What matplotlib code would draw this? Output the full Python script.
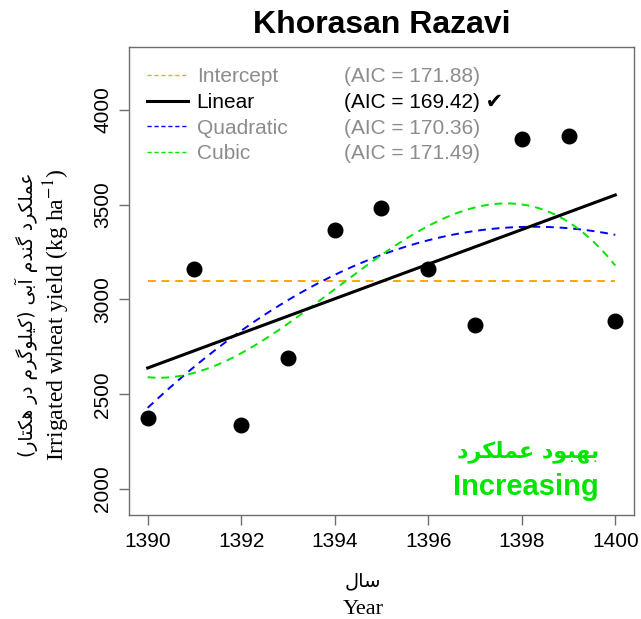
import numpy as np
import matplotlib
matplotlib.use("Agg")
import matplotlib.pyplot as plt
from matplotlib.lines import Line2D

plt.rcParams['font.family'] = ['Liberation Sans', 'DejaVu Sans']
plt.rcParams['mathtext.fontset'] = 'stix'

# data
years = [1390, 1391, 1392, 1393, 1394, 1395, 1396, 1397, 1398, 1399, 1400]
yield_kg = [2375, 3163, 2338, 2690, 3368, 3485, 3163, 2865, 3845, 3865, 2888]

models = ['Intercept', 'Linear', 'Quadratic', 'Cubic']
aic = [171.88, 169.42, 170.36, 171.49]
degrees = [0, 1, 2, 3]
best = 'Linear'

title = 'Khorasan Razavi'
xlabel_en = 'Year'
xlabel_fa = 'سال'
ylabel_en = r'Irrigated wheat yield (kg ha$^{-1}$)'
ylabel_fa = 'عملکرد گندم آبی (کیلوگرم در هکتار)'
trend_en = 'Increasing'
trend_fa = 'بهبود عملکرد'


# --- minimal Persian shaping (matplotlib has no complex text layout) ---
FORMS = {
    'ا': ('\uFE8D', '\uFE8E', None, None),
    'آ': ('\uFE81', '\uFE82', None, None),
    'ب': ('\uFE8F', '\uFE90', '\uFE91', '\uFE92'),
    'ت': ('\uFE95', '\uFE96', '\uFE97', '\uFE98'),
    'د': ('\uFEA9', '\uFEAA', None, None),
    'ر': ('\uFEAD', '\uFEAE', None, None),
    'س': ('\uFEB1', '\uFEB2', '\uFEB3', '\uFEB4'),
    'ع': ('\uFEC9', '\uFECA', '\uFECB', '\uFECC'),
    'ل': ('\uFEDD', '\uFEDE', '\uFEDF', '\uFEE0'),
    'م': ('\uFEE1', '\uFEE2', '\uFEE3', '\uFEE4'),
    'ن': ('\uFEE5', '\uFEE6', '\uFEE7', '\uFEE8'),
    'ه': ('\uFEE9', '\uFEEA', '\uFEEB', '\uFEEC'),
    'و': ('\uFEED', '\uFEEE', None, None),
    '\u06A9': ('\uFB8E', '\uFB8F', '\uFB90', '\uFB91'),
    '\u06AF': ('\uFB92', '\uFB93', '\uFB94', '\uFB95'),
    '\u06CC': ('\uFBFC', '\uFBFD', '\uFBFE', '\uFBFF'),
}


def fa(text):
    text = text.replace('\u0643', '\u06A9').replace('\u064A', '\u06CC')
    out = []
    for i, ch in enumerate(text):
        if ch not in FORMS:
            out.append(ch)
            continue
        prev = text[i - 1] if i > 0 else ''
        nxt = text[i + 1] if i + 1 < len(text) else ''
        join_prev = prev in FORMS and FORMS[prev][2] is not None
        join_next = nxt in FORMS and FORMS[ch][2] is not None
        iso, fin, ini, med = FORMS[ch]
        if join_prev and join_next:
            out.append(med)
        elif join_prev:
            out.append(fin)
        elif join_next:
            out.append(ini)
        else:
            out.append(iso)
    vis = ''.join(out)[::-1]
    return vis.translate(str.maketrans('()', ')('))


fig = plt.figure(figsize=(6.41, 6.19), dpi=100)
ax = fig.add_axes([129 / 641, 1 - 515 / 619, 505 / 641, 468 / 619])

colors = {'Intercept': '#FFA500', 'Linear': 'black', 'Quadratic': '#0000FF', 'Cubic': '#00E600'}

x = np.array(years, dtype=float)
y = np.array(yield_kg, dtype=float)
xs = np.linspace(x.min(), x.max(), 300)
handles = []
for name, deg in zip(models, degrees):
    coef = np.polyfit(x - 1395, y, deg)
    ys = np.polyval(coef, xs - 1395)
    if name == 'Linear':
        ax.plot(xs, ys, color=colors[name], lw=2.2, zorder=3)
        handles.append(Line2D([], [], color=colors[name], lw=2.2))
    else:
        ax.plot(xs, ys, color=colors[name], lw=1.4, ls=(0, (4, 3)), zorder=2)
        handles.append(Line2D([], [], color=colors[name], lw=1.0, ls=(0, (3, 2))))

ax.scatter(years, yield_kg, s=110, color='black', zorder=4)

# legend: model names in column 1, AIC values in column 2
aic_labels = []
for name, a in zip(models, aic):
    lab = '(AIC = %.2f)' % a
    if name == best:
        lab += ' \u2714'
    aic_labels.append(lab)
blank = [Line2D([], [], color='none') for _ in models]
label_cols = ['black' if m == best else '#8C8C8C' for m in models]
leg = ax.legend(handles + blank, models + aic_labels, loc='upper left',
                bbox_to_anchor=(0.002, 0.992), ncol=2, frameon=False,
                fontsize=15, handlelength=2.0, handletextpad=0.4,
                columnspacing=0.3, labelspacing=0.32, borderpad=0.3,
                labelcolor=label_cols + label_cols)

ax.set_xlim(1389.6, 1400.4)
ax.set_ylim(1863, 4332)
ax.set_xticks([1390, 1392, 1394, 1396, 1398, 1400])
ax.set_yticks([2000, 2500, 3000, 3500, 4000])
ax.tick_params(axis='both', direction='out', length=7, width=1, color='#6E6E6E',
               labelsize=15, pad=5)
for lab in ax.get_yticklabels():
    lab.set_rotation(90)
    lab.set_va('center')
for sp in ax.spines.values():
    sp.set_color('#6E6E6E')
    sp.set_linewidth(1.0)

fig.text(382 / 641, 1 - 25 / 619, title, ha='center', va='center',
         fontsize=23, fontweight='bold')

fig.text(363 / 641, 1 - 581 / 619, fa(xlabel_fa), ha='center', va='center',
         fontsize=14, family=['DejaVu Sans'])
fig.text(363 / 641, 1 - 609 / 619, xlabel_en, ha='center', va='center',
         fontsize=16, family=['Liberation Serif', 'DejaVu Sans'])

fig.text(26 / 641, 1 - 315 / 619, fa(ylabel_fa), ha='center', va='center',
         rotation=90, fontsize=13.5, family=['DejaVu Sans'])
fig.text(57 / 641, 1 - 315 / 619, ylabel_en, ha='center', va='center',
         rotation=90, fontsize=17, family=['Liberation Serif', 'DejaVu Sans'])

ax.text(599 / 641, 1 - 452 / 619, fa(trend_fa), transform=fig.transFigure,
        ha='right', va='center', fontsize=16, fontweight='bold',
        color='#00E600', family=['DejaVu Sans'])
ax.text(599 / 641, 1 - 487 / 619, trend_en, transform=fig.transFigure,
        ha='right', va='center', fontsize=21, fontweight='bold', color='#00E600')

fig.savefig('out.png', dpi=100)
